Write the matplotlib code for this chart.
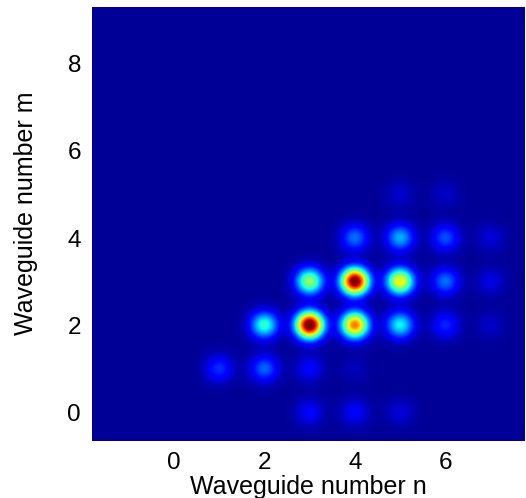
import numpy as np
import matplotlib
matplotlib.use("Agg")
import matplotlib.pyplot as plt

plt.rcParams['font.family'] = ['Liberation Sans', 'DejaVu Sans']

# waveguide positions (n, m) and relative intensity
n_pos = [3, 4, 4, 5, 3, 2, 5, 5, 6, 4, 6, 2, 1, 6, 3, 3, 4, 5, 7, 7, 7, 5, 6, 4]
m_pos = [2, 3, 2, 3, 3, 2, 2, 4, 3, 4, 4, 1, 1, 2, 1, 0, 0, 0, 3, 4, 2, 5, 5, 1]
power = [1.0, 0.97, 0.72, 0.6, 0.48, 0.37, 0.33, 0.26, 0.2, 0.2, 0.17, 0.19,
         0.14, 0.13, 0.09, 0.09, 0.09, 0.055, 0.065, 0.055, 0.04, 0.045, 0.04, 0.03]

x_range = (-1.8, 7.75)
y_range = (-0.65, 9.3)
sigma = 0.21  # spot width in lattice units

x = np.linspace(x_range[0], x_range[1], 500)
y = np.linspace(y_range[0], y_range[1], 500)
X, Y = np.meshgrid(x, y)
field = np.zeros_like(X)
for n, m, p in zip(n_pos, m_pos, power):
    field += p * np.exp(-((X - n) ** 2 + (Y - m) ** 2) / (2 * sigma ** 2))

fig = plt.figure(figsize=(5.26, 4.98), dpi=100)
ax = fig.add_axes([0.175, 0.1145, 0.823, 0.8715])
ax.imshow(field, cmap='jet', origin='lower', vmin=-0.02, vmax=0.92,
          extent=[x_range[0], x_range[1], y_range[0], y_range[1]],
          aspect='auto', interpolation='bilinear')
ax.set_xticks([0, 2, 4, 6])
ax.set_yticks([0, 2, 4, 6, 8])
ax.tick_params(length=0, labelsize=17.5, pad=8)
for s in ax.spines.values():
    s.set_visible(False)
ax.set_xlabel('Waveguide number n', fontsize=18, labelpad=1)
ax.set_ylabel('Waveguide number m', fontsize=18)
ax.yaxis.set_label_coords(-0.125, 0.525)

fig.savefig('out.png', dpi=100)
